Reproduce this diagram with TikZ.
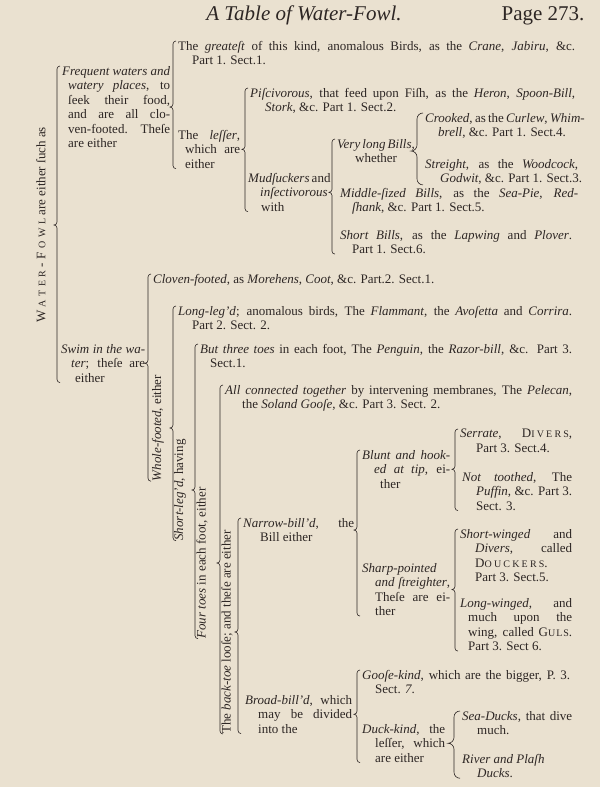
\documentclass[tikz,border=0pt]{standalone}
\usepackage{fontspec}
\setmainfont{Liberation Serif}
\usepackage{xcolor}
\definecolor{paper}{RGB}{234,225,208}
\definecolor{ink}{RGB}{45,38,36}
\usepackage{tikz}
\usetikzlibrary{calc}
\newcommand{\body}{\fontsize{13}{14.5}\selectfont}
\newcommand{\J}[2]{\makebox[#1pt][s]{#2}}
\newcommand{\fsc}[3][22]{{\addfontfeature{LetterSpace=#1}#2{\fontsize{10}{10}\selectfont #3}}}
\newcommand{\ls}{\kern3.5pt}
\newcommand{\smc}{\fontsize{10}{10}\selectfont}
\tikzset{
  entry/.style  ={anchor=north west,inner sep=0pt,align=left,text=ink,font=\body,
                  execute at begin node=\rule{0pt}{9pt}},
  upright/.style={rotate=90,inner sep=0pt,text=ink,font=\body},
  brk/.style    ={draw=ink,line width=0.6pt},
}
% brace from the top child to the bottom child, tip at the parent
\newcommand{\bkt}[4][3]{%
  \draw[brk] let \p1=#2, \p2=#3, \p3=#4 in
    (\x1-2pt,\y1) to[out=180,in=90] (\x1-#1pt-2pt,\y1-#1pt)
    -- (\x1-#1pt-2pt,\y2+#1pt) to[out=-90,in=0] (\x1-2*#1pt-2pt,\y2)
    to[out=0,in=90] (\x1-#1pt-2pt,\y2-#1pt)
    -- (\x1-#1pt-2pt,\y3+#1pt) to[out=-90,in=180] (\x1-2pt,\y3);}

\begin{document}
\begin{tikzpicture}[x=1pt,y=-1pt]
  \fill[paper] (0,0) rectangle (600,787);
  \useasboundingbox (0,0) rectangle (600,787);
  % running head
  \node[text=ink,font=\fontsize{21}{24}\selectfont\itshape,anchor=base] (title) at (304,20)
    {A Table of Water-Fowl.};
  \node[text=ink,font=\fontsize{21}{24}\selectfont,anchor=base east] (page) at (588,20)
    {Page 273.};
  % first branch: frequent waters
  \node[upright] (waterfowl) at (41,225)
    {W\ls{\smc A\ls T\ls E\ls R}\ls-\ls F\ls{\smc O\ls W\ls L} are either ſuch as};
  \node[entry] (frequent) at (62,66)
    {\J{108}{\textit{Frequent waters and}}\\
     \hspace*{6pt}\J{102}{\textit{watery places}, to}\\
     \hspace*{6pt}\J{102}{ſeek their food,}\\
     \hspace*{6pt}\J{102}{and are all clo-}\\
     \hspace*{6pt}\J{102}{ven-footed. Theſe}\\
     \hspace*{6pt}are either};
  \node[entry] (greatest) at (178,41)
    {\J{397}{The \textit{greateſt} of this kind, anomalous Birds, as the \textit{Crane}, \textit{Jabiru}, \&c.}\\
     \hspace*{14pt}Part 1. Sect.1.};
  \node[entry] (lesser) at (178,130)
    {\J{62}{The \textit{leſſer},}\\ \hspace*{7pt}\J{55}{which are}\\ \hspace*{7pt}either};
  \node[entry] (pisciv) at (250,88)
    {\J{325}{\textit{Piſcivorous}, that feed upon Fiſh, as the \textit{Heron}, \textit{Spoon-Bill},}\\
     \hspace*{15pt}\textit{Stork}, \&c. Part 1. Sect.2.};
  \node[entry] (mud) at (248,173)
    {\J{82}{\textit{Mudſuckers} and}\\ \hspace*{12pt}\textit{inſectivorous}\\ \hspace*{13pt}with};
  \node[entry] (verylong) at (337,139)
    {\J{73}{\textit{Very long Bills},}\\ \hspace*{18pt}whether};
  \node[entry] (crooked) at (425,113)
    {\J{155}{\textit{Crooked}, as the \textit{Curlew}, \textit{Whim-}}\\
     \hspace*{13pt}\textit{brell}, \&c. Part 1. Sect.4.};
  \node[entry] (streight) at (425,159)
    {\J{153}{\textit{Streight}, as the \textit{Woodcock},}\\
     \hspace*{15pt}\textit{Godwit}, \&c. Part 1. Sect.3.};
  \node[entry] (middle) at (340,188)
    {\J{238}{\textit{Middle-ſized Bills}, as the \textit{Sea-Pie}, \textit{Red-}}\\
     \hspace*{12pt}\textit{ſhank}, \&c. Part 1. Sect.5.};
  \node[entry] (short) at (340,230)
    {\J{232}{\textit{Short Bills}, as the \textit{Lapwing} and \textit{Plover}.}\\
     \hspace*{12pt}Part 1. Sect.6.};
  % second branch: swimmers
  \node[entry] (swim) at (61,344)
    {\J{84}{\textit{Swim in the wa-}}\\ \hspace*{10pt}\J{74}{\textit{ter}; theſe are}\\ \hspace*{14pt}either};
  \node[entry] (cloven) at (153,274)
    {\textit{Cloven-footed}, as \textit{Morehens}, \textit{Coot}, \&c. Part.2. Sect.1.};
  \node[upright] (whole) at (158,428) {\textit{Whole-footed}, either};
  \node[entry] (longleg) at (178,306)
    {\J{394}{\textit{Long-leg'd}; anomalous birds, The \textit{Flammant}, the \textit{Avoſetta} and \textit{Corrira}.}\\
     \hspace*{14pt}Part 2. Sect. 2.};
  \node[upright] (shortleg) at (180,490) {\textit{Short-leg'd}, having};
  \node[entry] (three) at (200,344)
    {\J{372}{\textit{But three toes} in each foot, The \textit{Penguin}, the \textit{Razor-bill}, \&c. Part 3.}\\
     \hspace*{10pt}Sect.1.};
  \node[upright] (fourtoes) at (202,563) {\textit{Four toes} in each foot, either};
  \node[entry] (allconn) at (225,385)
    {\J{347}{\textit{All connected together} by intervening membranes, The \textit{Pelecan},}\\
     \hspace*{17pt}the \textit{Soland Gooſe}, \&c. Part 3. Sect. 2.};
  \node[upright] (backtoe) at (227,632) {The \textit{back-toe} looſe; and theſe are either};
  % narrow bills
  \node[entry] (narrow) at (243,518)
    {\J{111}{\textit{Narrow-bill'd}, the}\\ \hspace*{17pt}Bill either};
  \node[entry] (blunt) at (362,450)
    {\J{88}{\textit{Blunt and hook-}}\\ \hspace*{12pt}\J{76}{\textit{ed at tip}, ei-}\\ \hspace*{18pt}ther};
  \node[entry] (serrate) at (460,429)
    {\J{112}{\textit{Serrate}, \fsc{D}{IVERS},}\\ \hspace*{16pt}Part 3. Sect.4.};
  \node[entry] (nottooth) at (462,472)
    {\J{110}{\textit{Not toothed}, The}\\ \hspace*{14pt}\J{96}{\textit{Puffin}, \&c. Part 3.}\\
     \hspace*{14pt}Sect. 3.};
  \node[entry] (sharp) at (362,563)
    {\textit{Sharp-pointed}\\ \hspace*{13pt}\J{75}{\textit{and ſtreighter},}\\
     \hspace*{13pt}\J{75}{Theſe are ei-}\\ \hspace*{13pt}ther};
  \node[entry] (shortw) at (460,529)
    {\J{112}{\textit{Short-winged} and}\\ \hspace*{15pt}\J{97}{\textit{Divers}, called}\\
     \hspace*{15pt}\J{97}{\fsc{D}{OUCKERS}.}\\ \hspace*{15pt}Part 3. Sect.5.};
  \node[entry] (longw) at (460,598)
    {\J{112}{\textit{Long-winged}, and}\\ \hspace*{8pt}\J{104}{much upon the}\\
     \hspace*{8pt}\J{104}{wing, called \fsc[10]{G}{ULS}.}\\ \hspace*{8pt}Part 3. Sect 6.};
  % broad bills
  \node[entry] (broad) at (245,695)
    {\J{107}{\textit{Broad-bill'd}, which}\\ \hspace*{13pt}\J{94}{may be divided}\\ \hspace*{13pt}into the};
  \node[entry] (goose) at (362,670)
    {\J{208}{\textit{Gooſe-kind}, which are the bigger, P. 3.}\\ \hspace*{13pt}Sect. \textit{7}.};
  \node[entry] (duck) at (362,724)
    {\J{83}{\textit{Duck-kind}, the}\\ \hspace*{13pt}\J{70}{leſſer, which}\\ \hspace*{13pt}are either};
  \node[entry] (seaduck) at (462,711)
    {\J{110}{\textit{Sea-Ducks}, that dive}\\ \hspace*{15pt}much.};
  \node[entry] (river) at (462,754)
    {\textit{River and Plaſh}\\ \hspace*{15pt}\textit{Ducks}.};
  % braces
  \bkt{(frequent.north west)}{(waterfowl)}{(swim.south west)}
  \bkt{(greatest.north west)}{(frequent)}{(lesser.south west)}
  \bkt{(pisciv.north west)}{(lesser)}{(mud.south west)}
  \bkt{(verylong.north west)}{(mud)}{(short.south west)}
  \bkt[6]{(crooked.north west)}{(verylong)}{(streight.south west)}
  \bkt{(cloven.north west)}{(swim)}{(whole.west)}
  \bkt{(longleg.north west)}{(whole)}{(shortleg.west)}
  \bkt{(three.north west)}{(shortleg)}{(fourtoes.west)}
  \bkt{(allconn.north west)}{(fourtoes)}{(backtoe.west)}
  \bkt{(narrow.north west)}{(backtoe)}{(broad.south west)}
  \bkt{(blunt.north west)}{(narrow)}{(sharp.south west)}
  \bkt{(serrate.north west)}{(blunt)}{(nottooth.south west)}
  \bkt{(shortw.north west)}{(sharp)}{(longw.south west)}
  \bkt{(goose.north west)}{(broad)}{(duck.south west)}
  \bkt[6]{(seaduck.north west)}{(duck)}{(river.south west)}
\end{tikzpicture}
\end{document}
